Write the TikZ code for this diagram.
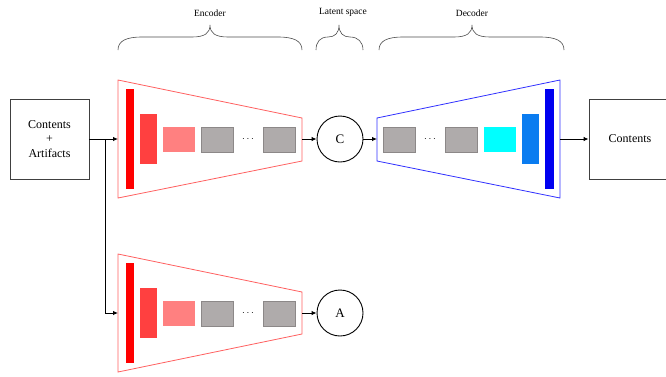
\documentclass[tikz,border=0pt]{standalone}
\usepackage{fontspec}
\setmainfont{Liberation Serif}
\usetikzlibrary{arrows.meta}
\definecolor{redA}{HTML}{FF0000}
\definecolor{redB}{HTML}{FF4040}
\definecolor{redC}{HTML}{FF8080}
\definecolor{grayF}{HTML}{AFABAB}
\definecolor{grayD}{HTML}{8C8888}
\definecolor{blueA}{HTML}{0000F0}
\definecolor{blueB}{HTML}{0A7CF0}
\definecolor{cyanC}{HTML}{00FFFF}
\definecolor{encline}{HTML}{FF6060}
\definecolor{decline}{HTML}{3030FF}
\begin{document}
\begin{tikzpicture}[x=1pt,y=-1pt,
  blk/.style={draw=black!75,line width=0.9pt,fill=white,inner sep=0pt,font=\fontsize{12}{14.5}\selectfont},
  lat/.style={circle,draw=black,line width=0.9pt,minimum size=46pt,inner sep=0pt,font=\fontsize{13}{15}\selectfont},
  layer/.style={inner sep=0pt,minimum width=32pt,minimum height=25pt},
  grayl/.style={layer,fill=grayF,draw=grayD,line width=0.8pt},
  conn/.style={line width=0.9pt,-{Latex[length=5pt,width=4.5pt]}},
  brc/.style={line width=0.6pt,black!70},
  lbl/.style={font=\fontsize{9.5}{11}\selectfont},
  dts/.style={font=\fontsize{10}{11}\selectfont}]
\useasboundingbox (0,0) rectangle (666,376);
\clip (0,0) rectangle (666,376);

% input / output boxes
\node[blk,minimum width=79pt,minimum height=80pt,align=center] (in) at (49.5,139) {Contents\\+\\Artifacts};
\node[blk,minimum width=82pt,minimum height=80pt] (out) at (630,139) {Contents};

% braces
\draw[brc] (118,50) .. controls (118,41) and (126,37) .. (142,37) -- (192,37) .. controls (205,37) and (210,33) .. (210,25)
  .. controls (210,33) and (215,37) .. (228,37) -- (278,37) .. controls (294,37) and (302,41) .. (302,50);
\node[lbl] (tenc) at (210,13) {Encoder};
\draw[brc] (316,50) .. controls (316,42) and (320,37) .. (328,37) .. controls (335,37) and (339,33) .. (339,25)
  .. controls (339,33) and (343,37) .. (350,37) .. controls (358,37) and (363,42) .. (363,50);
\node[lbl] (tlat) at (343,12) {Latent space};
\draw[brc] (379,50) .. controls (379,41) and (387,37) .. (403,37) -- (454,37) .. controls (467,37) and (472,33) .. (472,25)
  .. controls (472,33) and (477,37) .. (490,37) -- (540,37) .. controls (556,37) and (564,41) .. (564,50);
\node[lbl] (tdec) at (472,13) {Decoder};

% ---------- encoder 1 ----------
\coordinate (e1in) at (118,139);
\coordinate (e1out) at (302,139);
\draw[encline,line width=0.8pt] (118,80) -- (302,118) -- (302,161) -- (118,198) -- cycle;
\node[layer,fill=redA,minimum width=8pt,minimum height=100pt] (e1a) at (130,139) {};
\node[layer,fill=redB,minimum width=17pt,minimum height=50pt] (e1b) at (148.5,139) {};
\node[layer,fill=redC] (e1c) at (179,139.5) {};
\node[grayl] (e1d) at (217.5,139.5) {};
\node[dts] (e1e) at (248,139) {$\cdots$};
\node[grayl] (e1f) at (279.5,139.5) {};
\node[lat] (C) at (340,139) {C};

% ---------- encoder 2 ----------
\coordinate (e2in) at (118,313);
\coordinate (e2out) at (302,313);
\draw[encline,line width=0.8pt] (118,254) -- (302,292) -- (302,334) -- (118,372) -- cycle;
\node[layer,fill=redA,minimum width=8pt,minimum height=100pt] (e2a) at (130,313) {};
\node[layer,fill=redB,minimum width=17pt,minimum height=50pt] (e2b) at (148.5,313) {};
\node[layer,fill=redC] (e2c) at (179,313.5) {};
\node[grayl] (e2d) at (217.5,313.5) {};
\node[dts] (e2e) at (248,313) {$\cdots$};
\node[grayl] (e2f) at (279.5,313.5) {};
\node[lat] (A) at (340,313) {A};

% ---------- decoder ----------
\coordinate (din) at (377,139);
\coordinate (dout) at (560,139);
\draw[decline,line width=0.8pt] (377,118) -- (560,80) -- (560,198) -- (377,161) -- cycle;
\node[grayl] (d1) at (399,139.5) {};
\node[dts] (d2) at (430,139) {$\cdots$};
\node[grayl] (d3) at (461,139.5) {};
\node[layer,fill=cyanC] (d4) at (499.5,139.5) {};
\node[layer,fill=blueB,minimum width=17pt,minimum height=50pt] (d5) at (530.5,139) {};
\node[layer,fill=blueA,minimum width=9pt,minimum height=100pt] (d6) at (549.5,139) {};

% ---------- connectors ----------
\coordinate (split) at (105,139);
\draw[conn] (in.east) -- (e1in);
\draw[conn] (split) |- (e2in);
\draw[conn] (e1out) -- (C.west);
\draw[conn] (e2out) -- (A.west);
\draw[conn] (C.east) -- (din);
\draw[conn] (dout) -- (out.west);
\end{tikzpicture}
\end{document}
